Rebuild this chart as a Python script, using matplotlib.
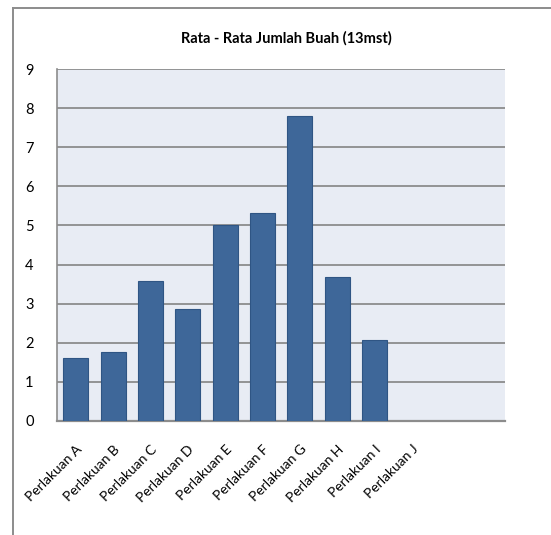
import numpy as np
import matplotlib
matplotlib.use("Agg")
import matplotlib.pyplot as plt
from matplotlib.lines import Line2D

categories = ["Perlakuan A", "Perlakuan B", "Perlakuan C", "Perlakuan D", "Perlakuan E",
              "Perlakuan F", "Perlakuan G", "Perlakuan H", "Perlakuan I", "Perlakuan J"]
values = [1.60, 1.75, 3.59, 2.85, 5.01, 5.33, 7.80, 3.69, 2.07, np.nan]
yticks = [0, 1, 2, 3, 4, 5, 6, 7, 8, 9]
title = "Rata - Rata Jumlah Buah (13mst)"
n_slots = 12  # chart reserves two empty category slots after J

plt.rcParams['font.family'] = ['Lato', 'DejaVu Sans']

W, H = 551, 535
fig = plt.figure(figsize=(W / 100, H / 100), dpi=100)
fig.patch.set_facecolor("white")

left, right, top, bottom = 57.3, 505.3, 69.3, 420.7
ax = fig.add_axes([left / W, 1 - bottom / H, (right - left) / W, (bottom - top) / H])
ax.set_facecolor("#E8ECF4")

x = np.arange(len(categories))
ax.bar(x, values, width=0.67, color="#3E6799", edgecolor="#2F5584", linewidth=0.8, zorder=3)

ax.set_xlim(-0.5, n_slots - 0.5)
ax.set_ylim(0, 9)
ax.set_yticks(yticks)
ax.set_yticklabels([str(v) for v in yticks], fontsize=10.5)
ax.yaxis.grid(True, color="#8C8C8C", linewidth=1.3, zorder=1)
ax.set_axisbelow(True)

ax.set_xticks(x)
ax.set_xticklabels(categories, rotation=45, ha="right", va="top", rotation_mode="anchor", fontsize=10)
ax.tick_params(axis="both", length=0)
ax.tick_params(axis="y", pad=17)
ax.tick_params(axis="x", pad=16)

for s in ["top", "right"]:
    ax.spines[s].set_visible(False)
ax.spines["left"].set_color("#8C8C8C")
ax.spines["left"].set_linewidth(1.2)
ax.spines["bottom"].set_color("#8C8C8C")
ax.spines["bottom"].set_linewidth(1.6)

fig.text(286 / W, 1 - 38 / H, title, ha="center", va="center", fontsize=10.5, fontweight="bold")

# outer chart border (left and top visible)
bx, by = 13.3 / W, 1 - 8 / H
fig.add_artist(Line2D([bx, bx], [0, by], transform=fig.transFigure, color="#8C8C8C", linewidth=1.4))
fig.add_artist(Line2D([bx, 1], [by, by], transform=fig.transFigure, color="#8C8C8C", linewidth=1.4))

fig.savefig("out.png", dpi=100)
